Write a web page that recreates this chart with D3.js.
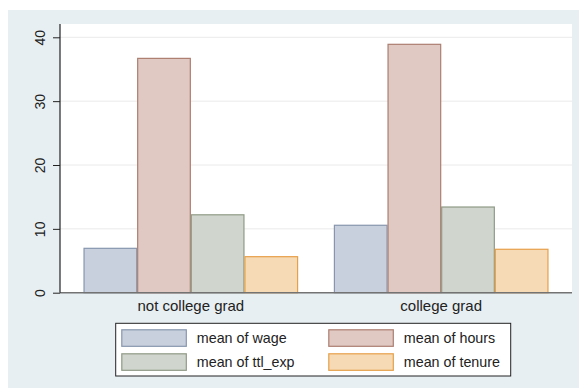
<!DOCTYPE html>
<html>
<head>
<meta charset="utf-8">
<script src="https://cdn.jsdelivr.net/npm/d3@7"></script>
<style>
  html, body { margin: 0; padding: 0; background: #ffffff; }
  svg { display: block; font-family: "Liberation Sans", Arial, Helvetica, sans-serif; }
</style>
</head>
<body>
<svg id="chart" width="579" height="388"></svg>
<script>
// ---- data ----
const categories = ["not college grad", "college grad"];
const seriesLabels = ["mean of wage", "mean of hours", "mean of ttl_exp", "mean of tenure"];
const wage = [6.95, 10.56];
const hours = [36.7, 38.9];
const ttlExp = [12.2, 13.42];
const tenure = [5.64, 6.8];
const yTicks = [0, 10, 20, 30, 40];

const seriesValues = [wage, hours, ttlExp, tenure];
const fills = ["#C9D0DD", "#DFC9C2", "#D0D6CE", "#F6DAB5"];
const strokes = ["#8796AE", "#AC7E70", "#8F9A86", "#E6A04A"];

// ---- layout ----
const W = 579, H = 388;
const plot = { left: 60, right: 572, top: 24, bottom: 292.7 };

const svg = d3.select("#chart");

// graph region background
svg.append("rect").attr("x", 8).attr("y", 10).attr("width", W - 8).attr("height", H - 10)
  .attr("fill", "#E8EFF2");

// plot region
svg.append("rect").attr("x", plot.left).attr("y", plot.top)
  .attr("width", plot.right - plot.left).attr("height", plot.bottom - plot.top)
  .attr("fill", "#ffffff");

const y = d3.scaleLinear().domain([0, 40]).range([plot.bottom, 37.3]);

const x0 = d3.scaleBand().domain(categories).range([plot.left, plot.right])
  .paddingInner(0.143).paddingOuter(0.094);
const x1 = d3.scaleBand().domain(d3.range(seriesLabels.length)).range([0, x0.bandwidth()]).padding(0);

// grid lines
svg.append("g").selectAll("line").data(yTicks.filter(d => d > 0)).join("line")
  .attr("x1", plot.left).attr("x2", plot.right)
  .attr("y1", d => y(d)).attr("y2", d => y(d))
  .attr("stroke", "#EAEAEA").attr("stroke-width", 1);

// bars
const groups = svg.append("g").selectAll("g").data(categories).join("g")
  .attr("transform", d => `translate(${x0(d)},0)`);
groups.selectAll("rect")
  .data((c, ci) => seriesValues.map((vals, si) => ({ si, v: vals[ci] })))
  .join("rect")
  .attr("x", d => x1(d.si) + 0.5)
  .attr("width", x1.bandwidth() - 1)
  .attr("y", d => y(d.v))
  .attr("height", d => y(0) - y(d.v))
  .attr("fill", d => fills[d.si])
  .attr("stroke", d => strokes[d.si])
  .attr("stroke-width", 1.2);

// baseline (x axis line)
svg.append("line").attr("x1", plot.left).attr("x2", plot.right)
  .attr("y1", y(0)).attr("y2", y(0))
  .attr("stroke", "#737373").attr("stroke-width", 1.6);

// y axis
const yAxis = svg.append("g").attr("transform", `translate(${plot.left},0)`)
  .call(d3.axisLeft(y).tickValues(yTicks).tickSize(7).tickFormat(d3.format("d")));
yAxis.select(".domain").remove();
yAxis.selectAll(".tick line").attr("stroke", "#222").attr("stroke-width", 1);
yAxis.selectAll(".tick text")
  .attr("x", 0).attr("dy", null).attr("y", -15)
  .attr("transform", "rotate(-90)")
  .attr("text-anchor", "middle")
  .attr("font-size", 14).attr("fill", "#222")
  .attr("font-family", "Liberation Sans, Arial, sans-serif");
svg.append("line").attr("x1", plot.left).attr("x2", plot.left)
  .attr("y1", plot.top).attr("y2", plot.bottom)
  .attr("stroke", "#222").attr("stroke-width", 1.2);

// x axis labels
const xAxis = svg.append("g").attr("transform", `translate(0,${plot.bottom})`)
  .call(d3.axisBottom(x0).tickSize(0));
xAxis.select(".domain").remove();
xAxis.selectAll(".tick text")
  .attr("y", 18.3).attr("dy", null)
  .attr("font-size", 15).attr("fill", "#222")
  .attr("font-family", "Liberation Sans, Arial, sans-serif");

// legend
const legend = svg.append("g");
legend.append("rect").attr("x", 115.7).attr("y", 323.3).attr("width", 395).attr("height", 52.7)
  .attr("fill", "#ffffff").attr("stroke", "#222").attr("stroke-width", 1);
const legendCols = [121.3, 328.3];
const legendRows = [329.3, 353.3];
const items = legend.selectAll("g").data(seriesLabels).join("g")
  .attr("transform", (d, i) => `translate(${legendCols[i % 2]},${legendRows[Math.floor(i / 2)]})`);
items.append("rect").attr("x", 0.5).attr("y", 0.5).attr("width", 64.5).attr("height", 16.5)
  .attr("fill", (d, i) => fills[i]).attr("stroke", (d, i) => strokes[i]).attr("stroke-width", 1.2);
items.append("text").attr("x", 75.5).attr("y", 14)
  .attr("font-size", 14.3).attr("fill", "#222")
  .text(d => d);
</script>
</body>
</html>
